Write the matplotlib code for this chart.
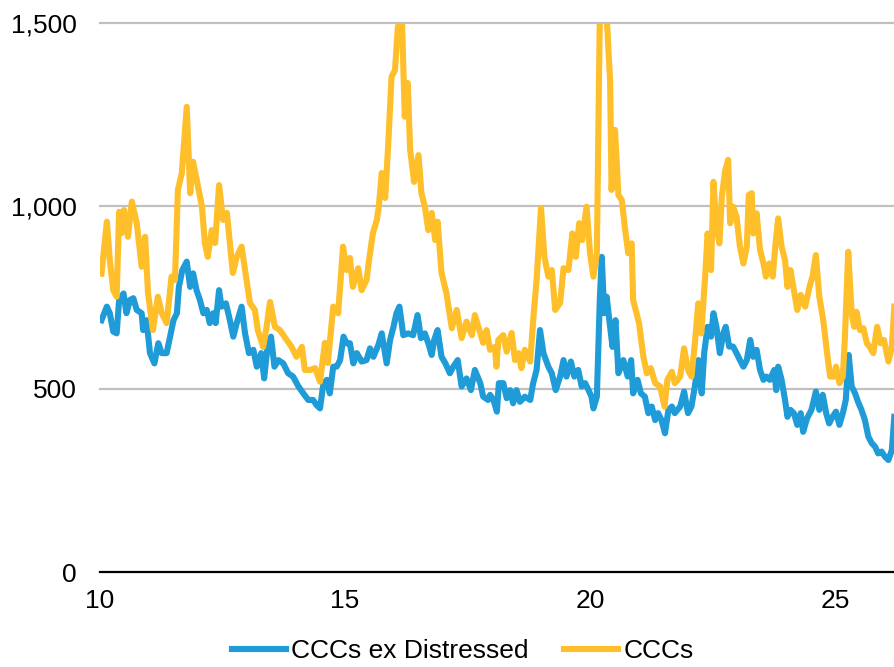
import matplotlib
matplotlib.use("Agg")
import matplotlib.pyplot as plt

plt.rcParams['font.family'] = ['Liberation Sans', 'DejaVu Sans']

# CCCs (spread, bp)
ccc_x = [10.03, 10.14, 10.20, 10.27, 10.34, 10.39, 10.44, 10.49, 10.57, 10.65,
         10.75, 10.85, 10.92, 10.98, 11.08, 11.18, 11.26, 11.36, 11.46, 11.53,
         11.59, 11.67, 11.77, 11.84, 11.90, 12.00, 12.08, 12.14, 12.20, 12.28,
         12.35, 12.43, 12.51, 12.59, 12.65, 12.71, 12.79, 12.89, 12.99, 13.06,
         13.16, 13.22, 13.33, 13.40, 13.47, 13.57, 13.67, 13.81, 13.91, 14.01,
         14.12, 14.18, 14.29, 14.39, 14.49, 14.59, 14.65, 14.76, 14.86, 14.96,
         15.03, 15.10, 15.16, 15.27, 15.34, 15.44, 15.49, 15.57, 15.65, 15.69,
         15.75, 15.82, 15.88, 15.95, 16.02, 16.08, 16.16, 16.22, 16.28, 16.33,
         16.41, 16.50, 16.56, 16.63, 16.70, 16.77, 16.84, 16.89, 16.97, 17.07,
         17.18, 17.28, 17.38, 17.48, 17.59, 17.65, 17.76, 17.82, 17.89, 17.96,
         18.06, 18.09, 18.13, 18.23, 18.30, 18.40, 18.47, 18.54, 18.60, 18.67,
         18.78, 18.84, 18.91, 19.00, 19.07, 19.15, 19.22, 19.29, 19.39, 19.46,
         19.56, 19.64, 19.71, 19.78, 19.84, 19.93, 20.00, 20.07, 20.14, 20.20,
         20.34, 20.41, 20.44, 20.51, 20.58, 20.65, 20.71, 20.78, 20.85, 20.88,
         20.95, 21.00, 21.09, 21.16, 21.24, 21.33, 21.43, 21.52, 21.58, 21.67,
         21.73, 21.84, 21.92, 22.00, 22.07, 22.14, 22.21, 22.27, 22.35, 22.40,
         22.47, 22.52, 22.57, 22.64, 22.69, 22.76, 22.82, 22.86, 22.92, 22.99,
         23.06, 23.13, 23.20, 23.24, 23.30, 23.33, 23.40, 23.47, 23.54, 23.59,
         23.66, 23.73, 23.78, 23.84, 23.91, 23.98, 24.03, 24.09, 24.16, 24.23,
         24.30, 24.39, 24.48, 24.54, 24.61, 24.68, 24.76, 24.83, 24.90, 24.98,
         25.02, 25.09, 25.16, 25.20, 25.27, 25.34, 25.39, 25.44, 25.51, 25.58,
         25.65, 25.71, 25.78, 25.86, 25.93, 26.00, 26.09, 26.16, 26.21]
ccc_y = [815, 957, 852, 770, 752, 984, 926, 989, 916, 1012,
         953, 834, 916, 762, 661, 752, 707, 680, 807, 798,
         1044, 1090, 1271, 1035, 1121, 1053, 999, 899, 861, 934,
         899, 1057, 962, 981, 899, 817, 861, 889, 798, 735,
         716, 661, 615, 670, 738, 670, 661, 634, 615, 588,
         615, 552, 552, 557, 520, 626, 571, 725, 707, 889,
         825, 858, 779, 830, 770, 798, 852, 926, 962, 998,
         1090, 1022, 1162, 1353, 1371, 1490, 1520, 1244, 1336, 1153,
         1066, 1139, 1035, 998, 934, 981, 907, 957, 817, 762,
         666, 716, 639, 684, 647, 702, 653, 626, 661, 607,
         615, 561, 634, 647, 602, 653, 579, 598, 557, 607,
         575, 688, 798, 994, 861, 807, 825, 716, 735, 830,
         825, 925, 861, 953, 907, 998, 871, 807, 871, 1520,
         1520, 1344, 1044, 1208, 1030, 1016, 943, 871, 898, 743,
         707, 680, 588, 543, 557, 516, 507, 452, 525, 547,
         516, 534, 611, 552, 534, 625, 734, 652, 807, 925,
         825, 1066, 953, 898, 1025, 1098, 1126, 953, 998, 971,
         889, 843, 889, 1030, 1035, 925, 980, 880, 843, 807,
         843, 807, 889, 966, 889, 852, 779, 825, 770, 716,
         757, 725, 779, 807, 866, 752, 688, 607, 534, 534,
         561, 516, 534, 634, 875, 707, 670, 711, 661, 666,
         625, 615, 598, 670, 625, 634, 575, 615, 725]

# CCCs ex Distressed
exd_x = [10.03, 10.14, 10.20, 10.27, 10.34, 10.39, 10.48, 10.54, 10.61, 10.68,
         10.75, 10.85, 10.88, 10.95, 11.02, 11.11, 11.19, 11.26, 11.36, 11.43,
         11.50, 11.57, 11.61, 11.68, 11.77, 11.84, 11.90, 11.97, 12.04, 12.11,
         12.18, 12.24, 12.31, 12.36, 12.43, 12.48, 12.57, 12.65, 12.72, 12.79,
         12.89, 12.96, 13.04, 13.13, 13.20, 13.29, 13.35, 13.42, 13.49, 13.56,
         13.64, 13.74, 13.84, 13.94, 14.05, 14.15, 14.25, 14.35, 14.42, 14.49,
         14.56, 14.63, 14.69, 14.76, 14.83, 14.90, 14.97, 15.03, 15.10, 15.17,
         15.24, 15.34, 15.44, 15.51, 15.58, 15.68, 15.75, 15.85, 15.92, 15.99,
         16.05, 16.11, 16.19, 16.29, 16.39, 16.48, 16.55, 16.63, 16.70, 16.77,
         16.82, 16.89, 16.97, 17.05, 17.14, 17.21, 17.30, 17.38, 17.48, 17.57,
         17.65, 17.76, 17.82, 17.92, 17.96, 18.03, 18.10, 18.14, 18.23, 18.30,
         18.37, 18.43, 18.50, 18.57, 18.67, 18.78, 18.84, 18.91, 18.98, 19.05,
         19.15, 19.22, 19.30, 19.39, 19.46, 19.52, 19.61, 19.68, 19.76, 19.83,
         19.90, 19.97, 20.03, 20.07, 20.14, 20.20, 20.24, 20.29, 20.34, 20.41,
         20.46, 20.52, 20.58, 20.68, 20.77, 20.84, 20.88, 20.97, 21.04, 21.12,
         21.19, 21.26, 21.33, 21.39, 21.46, 21.53, 21.60, 21.67, 21.73, 21.84,
         21.92, 22.00, 22.07, 22.14, 22.21, 22.28, 22.33, 22.40, 22.47, 22.52,
         22.58, 22.65, 22.72, 22.77, 22.84, 22.92, 22.99, 23.06, 23.13, 23.20,
         23.27, 23.33, 23.40, 23.47, 23.54, 23.60, 23.67, 23.76, 23.80, 23.84,
         23.91, 23.98, 24.03, 24.09, 24.16, 24.23, 24.30, 24.35, 24.43, 24.52,
         24.61, 24.68, 24.75, 24.82, 24.88, 24.95, 25.02, 25.09, 25.16, 25.22,
         25.28, 25.34, 25.41, 25.47, 25.54, 25.61, 25.68, 25.75, 25.82, 25.88,
         25.95, 26.02, 26.09, 26.16, 26.21]
exd_y = [688, 725, 707, 657, 652, 743, 761, 707, 743, 748,
         716, 707, 661, 688, 598, 570, 625, 598, 598, 643,
         688, 707, 779, 825, 848, 779, 816, 770, 743, 707,
         716, 680, 707, 680, 770, 725, 734, 688, 643, 680,
         725, 652, 598, 607, 561, 598, 529, 616, 643, 561,
         579, 570, 543, 534, 507, 488, 470, 470, 456, 447,
         516, 525, 488, 561, 561, 579, 643, 625, 625, 570,
         598, 575, 579, 611, 588, 620, 652, 570, 634, 670,
         707, 725, 647, 652, 647, 702, 639, 652, 625, 593,
         634, 661, 588, 570, 543, 561, 579, 507, 529, 497,
         552, 516, 479, 470, 484, 470, 438, 516, 516, 475,
         497, 461, 497, 465, 479, 470, 516, 552, 661, 598,
         561, 543, 497, 534, 579, 534, 575, 534, 552, 507,
         516, 497, 479, 447, 479, 743, 861, 707, 752, 670,
         615, 688, 543, 579, 534, 579, 488, 525, 488, 479,
         434, 452, 415, 434, 415, 379, 443, 452, 434, 452,
         493, 434, 452, 507, 579, 488, 598, 670, 643, 707,
         670, 598, 652, 670, 616, 616, 598, 579, 561, 579,
         634, 588, 607, 552, 525, 534, 525, 552, 497, 561,
         525, 470, 424, 443, 434, 402, 434, 383, 420, 443,
         493, 443, 484, 434, 406, 424, 438, 402, 434, 470,
         593, 507, 488, 465, 443, 415, 370, 352, 342, 324,
         329, 315, 306, 333, 424]

x_ticks = [10, 15, 20, 25]
y_ticks = [0, 500, 1000, 1500]
y_labels = ['0', '500', '1,000', '1,500']

blue = '#1F9BD7'
gold = '#FEBF2A'

fig = plt.figure(figsize=(8.95, 6.67), dpi=100)
ax = fig.add_axes([100 / 895, 1 - 572 / 667, 795 / 895, 549 / 667])

ax.plot(exd_x, exd_y, color=blue, lw=4.4, solid_joinstyle='round',
        label='CCCs ex Distressed')
ax.plot(ccc_x, ccc_y, color=gold, lw=4.4, solid_joinstyle='round',
        label='CCCs')

ax.set_xlim(10, 10 + 795 / 49)
ax.set_ylim(0, 1500)
ax.set_xticks(x_ticks)
ax.set_yticks(y_ticks)
ax.set_yticklabels(y_labels)

# gridlines like the original
for v in y_ticks[1:]:
    ax.axhline(v, color='#C0C0C0', lw=1.6, zorder=0, clip_on=False)

for s in ['top', 'right', 'left']:
    ax.spines[s].set_visible(False)
ax.spines['bottom'].set_color('black')
ax.spines['bottom'].set_linewidth(1.6)

ax.tick_params(axis='both', length=0, labelsize=19, colors='black')
ax.tick_params(axis='y', pad=17)
ax.tick_params(axis='x', pad=12)

fig.legend(loc='center', bbox_to_anchor=(0.517, 0.024), ncol=2,
           frameon=False, fontsize=19, handlelength=2.05,
           handletextpad=0.2, columnspacing=1.35)

fig.savefig('out.png', dpi=100)
